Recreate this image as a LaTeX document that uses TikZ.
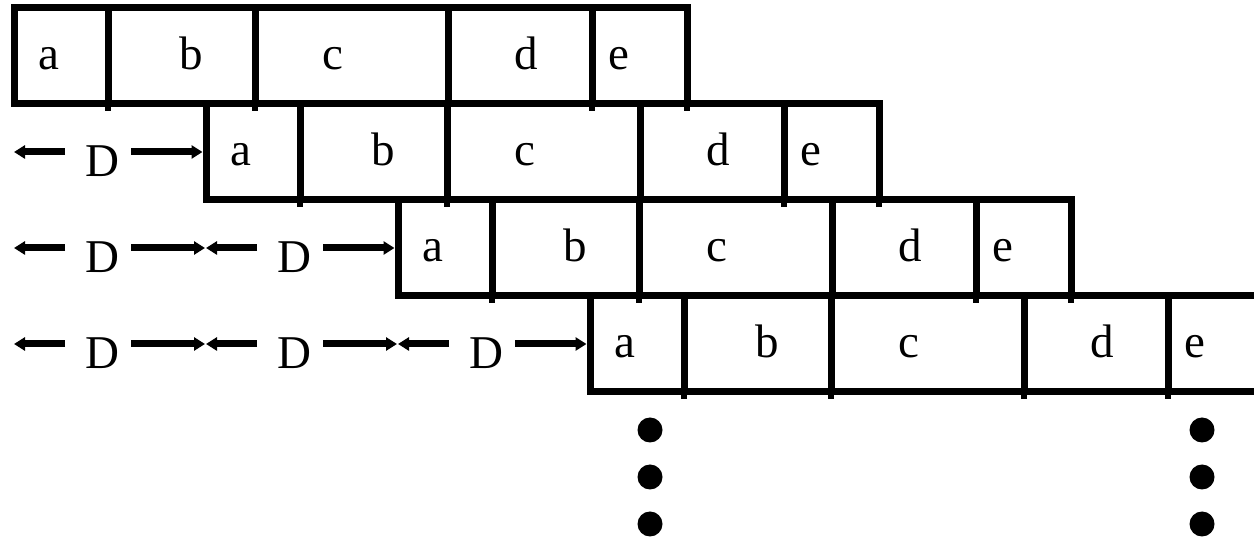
\documentclass[tikz,border=0pt]{standalone}
\usepackage{fontspec}
\setmainfont{Liberation Serif}
\usetikzlibrary{arrows.meta}
\begin{document}
\begin{tikzpicture}[x=0.5pt,y=-0.5pt,
  cell/.style={draw,line width=3.5pt,inner sep=0pt,minimum height=48pt},
  stub/.style={line width=3.3pt},
  lab/.style={anchor=base,inner sep=0pt,font=\fontsize{23.5}{28}\selectfont},
  arr/.style={line width=3.5pt,-{Triangle[length=5.5pt,width=6.5pt]}},
  dot/.style={circle,fill=black,inner sep=0pt,minimum size=12.5pt}]
\useasboundingbox (0,0) rectangle (1254,539);
\clip (0,0) rectangle (1254,539);
% rows of cells
\foreach \r/\L/\T in {1/14/8,2/206/104,3/398/200,4/590/296}{
  \foreach \n/\c/\w/\t in {a/47/47/35,b/167.5/73.5/177,c/337.5/96.5/319,d/506/72/512,e/625.5/47.5/605}{
    \node[cell,minimum width=\w pt] (r\r-\n) at (\L+\c,\T+48) {};
    \node[lab] (t\r-\n) at (\L+\t,\T+62) {\n};
  }
  % small protrusions of the dividers below each row
  \foreach \dx in {94,241,434,578,673}{
    \draw[stub] (\L+\dx,\T+96) -- ++(0,7.5);
  }
}
% D arrows
\foreach \r/\Y/\n in {2/152/1,3/248/2,4/344/3}{
  \foreach \k in {1,...,\n}{
    \pgfmathsetmacro\xo{14+192*(\k-1)}
    \coordinate (Le\r\k) at (\xo,\Y);
    \coordinate (Ls\r\k) at (\xo+51,\Y);
    \coordinate (Rs\r\k) at (\xo+117,\Y);
    \coordinate (Re\r\k) at (\xo+191,\Y);
    \node[lab] (D\r\k) at (\xo+88,\Y+25) {D};
    \draw[arr] (Ls\r\k) -- (Le\r\k);
    \ifnum\k=\n
      \draw[arr] (Rs\r\k) -- (r\r-a.west);
    \else
      \draw[arr] (Rs\r\k) -- (Re\r\k);
    \fi
  }
}
% continuation dots
\foreach \x in {650,1202}{
  \foreach \j/\y in {1/430,2/477,3/524}{
    \node[dot] (dot\x-\j) at (\x,\y) {};
  }
}
\end{tikzpicture}
\end{document}
